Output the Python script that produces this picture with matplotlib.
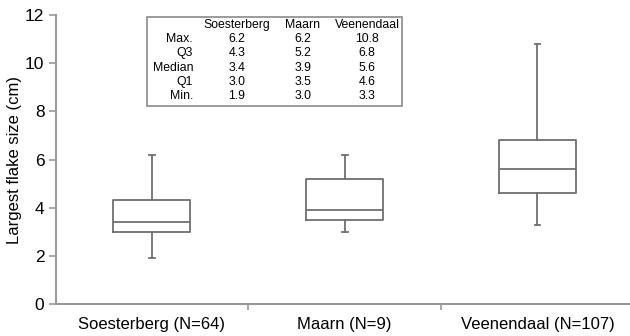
import matplotlib
matplotlib.use("Agg")
import matplotlib.pyplot as plt
from matplotlib.patches import Rectangle

plt.rcParams['font.family'] = ['Liberation Sans', 'DejaVu Sans']

sites = ['Soesterberg', 'Maarn', 'Veenendaal']
counts = [64, 9, 107]
v_max = [6.2, 6.2, 10.8]
v_q3 = [4.3, 5.2, 6.8]
v_med = [3.4, 3.9, 5.6]
v_q1 = [3.0, 3.5, 4.6]
v_min = [1.9, 3.0, 3.3]
row_names = ['Max.', 'Q3', 'Median', 'Q1', 'Min.']

W, H = 630, 336
fig = plt.figure(figsize=(6.3, 3.36), dpi=100)
ax = fig.add_axes([55.5 / W, 1 - 304 / H, (630 - 55.5) / W, (304 - 15) / H])

stats = []
for i in range(3):
    stats.append(dict(whislo=v_min[i], q1=v_q1[i], med=v_med[i],
                      q3=v_q3[i], whishi=v_max[i], fliers=[]))

edge = '#6f6f6f'
ax.bxp(stats, positions=[0, 1, 2], widths=0.4, capwidths=0.03,
       showfliers=False, patch_artist=False,
       boxprops=dict(color=edge, lw=1.3),
       medianprops=dict(color=edge, lw=1.3),
       whiskerprops=dict(color=edge, lw=1.3),
       capprops=dict(color=edge, lw=1.3))

ax.set_xlim(-0.5, 2.48)
ax.set_ylim(0, 12)
ax.set_yticks([0, 2, 4, 6, 8, 10, 12])
ax.set_xticks([0.5, 1.5])
ax.set_xticklabels([])
ax.tick_params(axis='x', length=4, color='#9a9a9a', width=1.2)
ax.tick_params(axis='y', length=5, color='#9a9a9a', width=1.2,
               labelsize=12.5, pad=3)
for i, s in enumerate(sites):
    ax.text(i, -0.55, f'{s} (N={counts[i]})', ha='center', va='top',
            fontsize=12, transform=ax.transData)
for sp in ['top', 'right']:
    ax.spines[sp].set_visible(False)
for sp in ['left', 'bottom']:
    ax.spines[sp].set_color('#9a9a9a')
    ax.spines[sp].set_linewidth(1.5)
ax.set_ylabel('Largest flake size (cm)', fontsize=12, labelpad=2)

# summary table
def px(x, y):
    return x / W, 1 - y / H

x0, y0 = px(147, 106)
x1, y1 = px(402, 17)
fig.patches.append(Rectangle((x0, y0), x1 - x0, y1 - y0, transform=fig.transFigure,
                             fill=False, edgecolor='#8a8a8a', lw=1.2))
col_x = [237, 303, 367]
row_y = [25, 39, 53, 68, 82, 96]
fs = 8.8
for j, s in enumerate(sites):
    fig.text(*px(col_x[j], row_y[0]), s, ha='center', va='center', fontsize=fs)
table_vals = [v_max, v_q3, v_med, v_q1, v_min]
for r, name in enumerate(row_names):
    fig.text(*px(193, row_y[r + 1]), name, ha='right', va='center', fontsize=fs)
    for j in range(3):
        fig.text(*px(col_x[j], row_y[r + 1]), f'{table_vals[r][j]:.1f}',
                 ha='center', va='center', fontsize=fs)

fig.savefig('out.png', dpi=100)
